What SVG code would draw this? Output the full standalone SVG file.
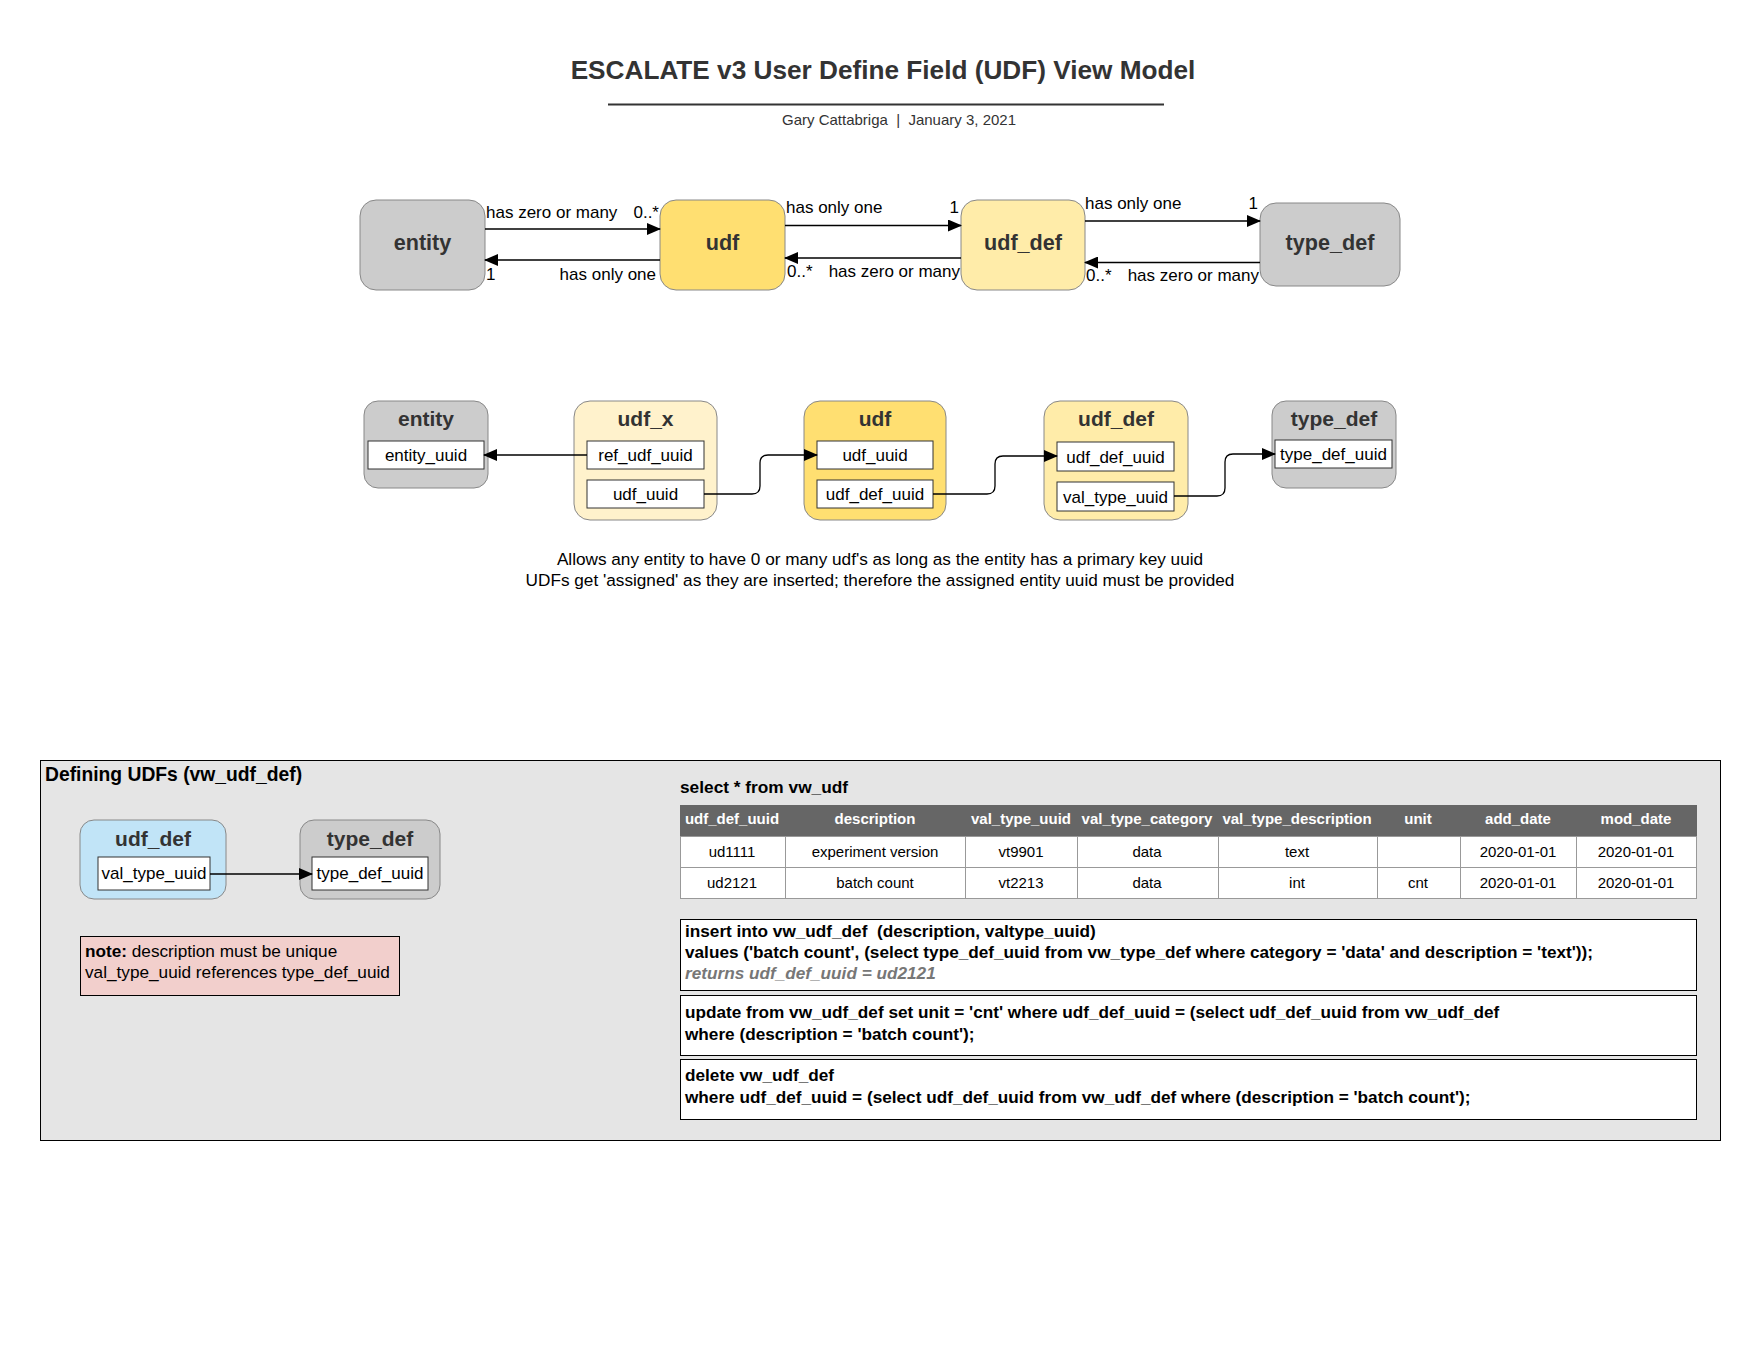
<svg xmlns="http://www.w3.org/2000/svg" width="1760" height="1360" viewBox="0 0 1760 1360">
<defs>
<marker id="arr" markerWidth="14" markerHeight="12" refX="13" refY="6" orient="auto" markerUnits="userSpaceOnUse">
<path d="M0,0 L14,6 L0,12 z" fill="#000"/>
</marker>
<style>
text{font-family:"Liberation Sans",Arial,sans-serif;}
.ttl{font-size:21px;font-weight:bold;fill:#333;text-anchor:middle;}
.ttl2{font-size:21.6px;font-weight:bold;fill:#333;text-anchor:middle;}
.lbl{font-size:17px;fill:#000;}
.fld{font-size:17px;fill:#000;text-anchor:middle;}
.fbox{fill:#fff;stroke:#333;stroke-width:1;}
.gray{fill:#cccccc;stroke:#888;stroke-width:1;}
.gold{fill:#ffdf71;stroke:#888;stroke-width:1;}
.lyel{fill:#ffeca9;stroke:#888;stroke-width:1;}
.cream{fill:#fff2cc;stroke:#888;stroke-width:1;}
.blue{fill:#c1e4f7;stroke:#888;stroke-width:1;}
.con{stroke:#000;stroke-width:1.3;fill:none;marker-end:url(#arr);}
.th{font-size:15px;font-weight:bold;fill:#fff;text-anchor:middle;}
.td{font-size:15px;fill:#000;text-anchor:middle;}
.sql{font-size:17.2px;font-weight:bold;fill:#000;}
</style>
</defs>
<rect width="1760" height="1360" fill="#fff"/>

<g id="header">
<text x="883" y="79" text-anchor="middle" font-size="26.2" font-weight="bold" fill="#333">ESCALATE v3 User Define Field (UDF) View Model</text>
<line x1="608" y1="104.5" x2="1164" y2="104.5" stroke="#333" stroke-width="2"/>
<text x="899" y="125" text-anchor="middle" font-size="15" fill="#333" xml:space="preserve">Gary Cattabriga  |  January 3, 2021</text>
</g>

<g id="top-entity"><rect class="gray" x="360" y="200" width="125" height="90" rx="16"/><text class="ttl2" x="422.5" y="250">entity</text></g>
<g id="top-udf"><rect class="gold" x="660" y="200" width="125" height="90" rx="16"/><text class="ttl2" x="722.5" y="250">udf</text></g>
<g id="top-udf_def"><rect class="lyel" x="961" y="200" width="124" height="90" rx="16"/><text class="ttl2" x="1023" y="250">udf_def</text></g>
<g id="top-type_def"><rect class="gray" x="1260" y="203" width="140" height="83" rx="16"/><text class="ttl2" x="1330" y="250">type_def</text></g>

<g id="mid-entity"><rect class="gray" x="364" y="401" width="124" height="87" rx="14"/><text class="ttl" x="426" y="426">entity</text>
<rect class="fbox" x="368" y="441" width="116" height="28"/><text class="fld" x="426" y="461">entity_uuid</text></g>
<g id="mid-udf_x"><rect class="cream" x="574" y="401" width="143" height="119" rx="16"/><text class="ttl" x="645.5" y="426">udf_x</text>
<rect class="fbox" x="587" y="441" width="117" height="28"/><text class="fld" x="645.5" y="461">ref_udf_uuid</text>
<rect class="fbox" x="587" y="480" width="117" height="28"/><text class="fld" x="645.5" y="500">udf_uuid</text></g>
<g id="mid-udf"><rect class="gold" x="804" y="401" width="142" height="119" rx="16"/><text class="ttl" x="875" y="426">udf</text>
<rect class="fbox" x="817" y="441" width="116" height="28"/><text class="fld" x="875" y="461">udf_uuid</text>
<rect class="fbox" x="817" y="480" width="116" height="28"/><text class="fld" x="875" y="500">udf_def_uuid</text></g>
<g id="mid-udf_def"><rect class="lyel" x="1044" y="401" width="144" height="119" rx="16"/><text class="ttl" x="1116" y="426">udf_def</text>
<rect class="fbox" x="1057" y="442" width="117" height="29"/><text class="fld" x="1115.5" y="463">udf_def_uuid</text>
<rect class="fbox" x="1057" y="482" width="117" height="29"/><text class="fld" x="1115.5" y="503">val_type_uuid</text></g>
<g id="mid-type_def"><rect class="gray" x="1272" y="401" width="124" height="87" rx="14"/><text class="ttl" x="1334" y="426">type_def</text>
<rect class="fbox" x="1275" y="440" width="117" height="28"/><text class="fld" x="1333.5" y="460">type_def_uuid</text></g>

<g id="caption">
<text x="880" y="565" text-anchor="middle" font-size="17.2">Allows any entity to have 0 or many udf's as long as the entity has a primary key uuid</text>
<text x="880" y="586" text-anchor="middle" font-size="17.2">UDFs get 'assigned' as they are inserted; therefore the assigned entity uuid must be provided</text>
</g>

<g id="panel">
<rect x="40.5" y="760.5" width="1680" height="380" fill="#e5e5e5" stroke="#000" stroke-width="1"/>
<text x="45" y="781" font-size="19.3" font-weight="bold">Defining UDFs (vw_udf_def)</text>
</g>

<g id="def-udf_def"><rect class="blue" x="80" y="820" width="146" height="79" rx="14"/><text class="ttl" x="153" y="846">udf_def</text>
<rect class="fbox" x="98" y="857" width="112" height="33"/><text class="fld" x="154" y="879">val_type_uuid</text></g>
<g id="def-type_def"><rect class="gray" x="300" y="820" width="140" height="79" rx="14"/><text class="ttl" x="370" y="846">type_def</text>
<rect class="fbox" x="312" y="857" width="116" height="33"/><text class="fld" x="370" y="879">type_def_uuid</text></g>

<g id="note"><rect x="80.5" y="936.5" width="319" height="59" fill="#f2cfcc" stroke="#000" stroke-width="1"/>
<text x="85" y="957" font-size="17.2"><tspan font-weight="bold">note:</tspan> description must be unique</text>
<text x="85" y="978" font-size="17.2">val_type_uuid references type_def_uuid</text></g>

<g id="table">
<text x="680" y="793" font-size="17.3" font-weight="bold">select * from vw_udf</text>
<rect x="680" y="805" width="1017" height="31" fill="#666"/>
<rect x="680.5" y="836.5" width="1016" height="62" fill="#fff" stroke="#999"/>
<g stroke="#999" stroke-width="1">
<line x1="680" y1="867.5" x2="1697" y2="867.5"/>
<line x1="785.5" y1="836" x2="785.5" y2="898"/>
<line x1="965.5" y1="836" x2="965.5" y2="898"/>
<line x1="1077.5" y1="836" x2="1077.5" y2="898"/>
<line x1="1218.5" y1="836" x2="1218.5" y2="898"/>
<line x1="1377.5" y1="836" x2="1377.5" y2="898"/>
<line x1="1460.5" y1="836" x2="1460.5" y2="898"/>
<line x1="1576.5" y1="836" x2="1576.5" y2="898"/>
</g>
<text class="th" x="732" y="824">udf_def_uuid</text>
<text class="th" x="875" y="824">description</text>
<text class="th" x="1021" y="824">val_type_uuid</text>
<text class="th" x="1147" y="824">val_type_category</text>
<text class="th" x="1297" y="824">val_type_description</text>
<text class="th" x="1418" y="824">unit</text>
<text class="th" x="1518" y="824">add_date</text>
<text class="th" x="1636" y="824">mod_date</text>
<text class="td" x="732" y="857">ud1111</text>
<text class="td" x="875" y="857">experiment version</text>
<text class="td" x="1021" y="857">vt9901</text>
<text class="td" x="1147" y="857">data</text>
<text class="td" x="1297" y="857">text</text>
<text class="td" x="1518" y="857">2020-01-01</text>
<text class="td" x="1636" y="857">2020-01-01</text>
<text class="td" x="732" y="888">ud2121</text>
<text class="td" x="875" y="888">batch count</text>
<text class="td" x="1021" y="888">vt2213</text>
<text class="td" x="1147" y="888">data</text>
<text class="td" x="1297" y="888">int</text>
<text class="td" x="1418" y="888">cnt</text>
<text class="td" x="1518" y="888">2020-01-01</text>
<text class="td" x="1636" y="888">2020-01-01</text>
</g>

<g id="sql-insert"><rect x="680.5" y="919.5" width="1016" height="71" fill="#fff" stroke="#000"/>
<text class="sql" x="685" y="937" xml:space="preserve">insert into vw_udf_def  (description, valtype_uuid)</text>
<text class="sql" x="685" y="958">values ('batch count', (select type_def_uuid from vw_type_def where category = 'data' and description = 'text'));</text>
<text x="685" y="979" font-size="17.2" font-weight="bold" font-style="italic" fill="#777">returns udf_def_uuid = ud2121</text></g>
<g id="sql-update"><rect x="680.5" y="995.5" width="1016" height="60" fill="#fff" stroke="#000"/>
<text class="sql" x="685" y="1018">update from vw_udf_def set unit = 'cnt' where udf_def_uuid = (select udf_def_uuid from vw_udf_def</text>
<text class="sql" x="685" y="1040">where (description = 'batch count');</text></g>
<g id="sql-delete"><rect x="680.5" y="1059.5" width="1016" height="60" fill="#fff" stroke="#000"/>
<text class="sql" x="685" y="1081">delete vw_udf_def</text>
<text class="sql" x="685" y="1103">where udf_def_uuid = (select udf_def_uuid from vw_udf_def where (description = 'batch count');</text></g>

<g id="connectors">
<line class="con" x1="485" y1="229" x2="660" y2="229"/>
<line class="con" x1="660" y1="260" x2="485" y2="260"/>
<line class="con" x1="785" y1="225.5" x2="961" y2="225.5"/>
<line class="con" x1="961" y1="258" x2="785" y2="258"/>
<line class="con" x1="1085" y1="221" x2="1260" y2="221"/>
<line class="con" x1="1260" y1="262.5" x2="1085" y2="262.5"/>
<line class="con" x1="587" y1="455" x2="484" y2="455"/>
<path class="con" d="M704,494 H752 Q760,494 760,486 V463 Q760,455 768,455 H817"/>
<path class="con" d="M933,494 H987 Q995,494 995,486 V464 Q995,456 1003,456 H1057"/>
<path class="con" d="M1174,496 H1217 Q1225,496 1225,488 V462 Q1225,454 1233,454 H1275"/>
<line class="con" x1="210" y1="874" x2="312" y2="874"/>
</g>

<g id="connector-labels">
<text class="lbl" x="486" y="218">has zero or many</text>
<text class="lbl" x="659" y="218" text-anchor="end">0..*</text>
<text class="lbl" x="486" y="280">1</text>
<text class="lbl" x="656" y="280" text-anchor="end">has only one</text>
<text class="lbl" x="786" y="213">has only one</text>
<text class="lbl" x="959" y="213" text-anchor="end">1</text>
<text class="lbl" x="787" y="277">0..*</text>
<text class="lbl" x="960" y="277" text-anchor="end">has zero or many</text>
<text class="lbl" x="1085" y="209">has only one</text>
<text class="lbl" x="1258" y="209" text-anchor="end">1</text>
<text class="lbl" x="1086" y="281">0..*</text>
<text class="lbl" x="1259" y="281" text-anchor="end">has zero or many</text>
</g>
</svg>
